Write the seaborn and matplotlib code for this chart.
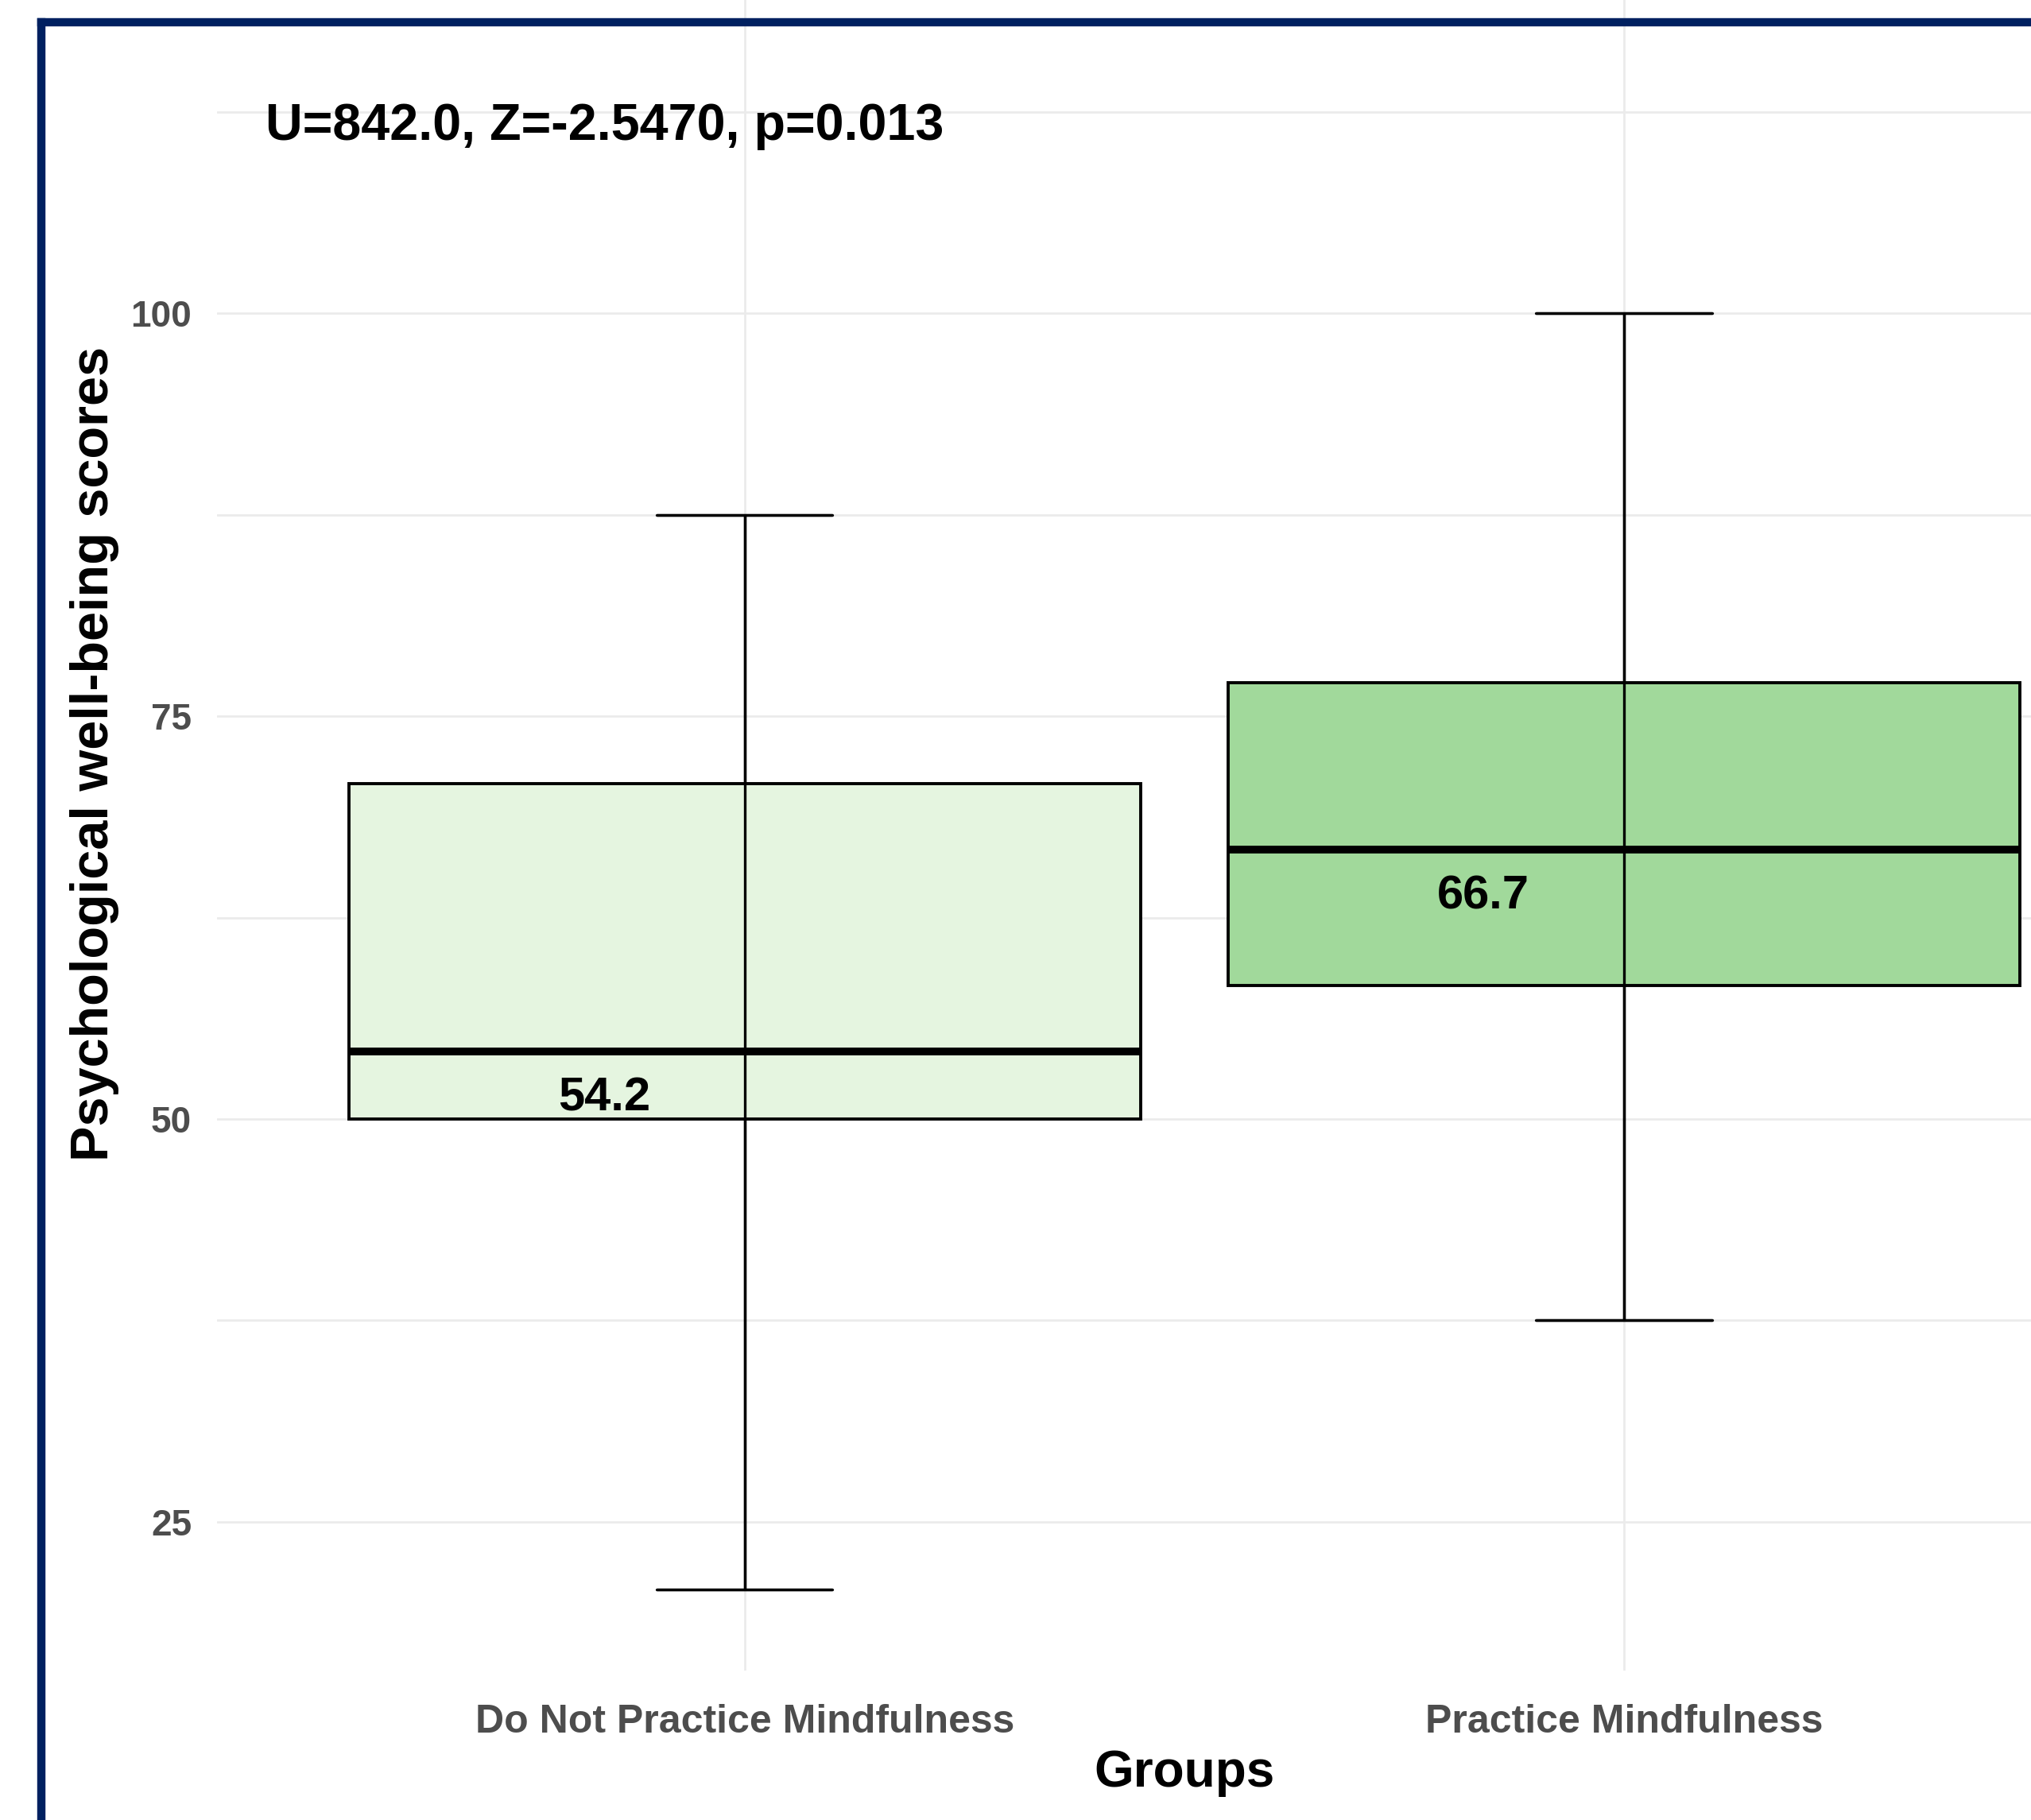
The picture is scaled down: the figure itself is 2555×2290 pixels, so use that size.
import numpy as np
import pandas as pd
import matplotlib
matplotlib.use("Agg")
import matplotlib.pyplot as plt
from matplotlib.lines import Line2D
from matplotlib.ticker import FixedLocator, MultipleLocator
import seaborn as sns

# five-number summaries (min, q1, median, q3, max)
groups = ["Do Not Practice Mindfulness", "Practice Mindfulness"]
no_practice = [20.8, 50.0, 54.2, 70.8, 87.5]
practice = [37.5, 58.3, 66.7, 77.1, 100.0]
fill_colors = ["#E5F5E0", "#A1D99B"]
y_ticks = [25, 50, 75, 100]
stat_text = "U=842.0, Z=-2.5470, p=0.013"

df = pd.DataFrame({
    "group": [groups[0]] * len(no_practice) + [groups[1]] * len(practice),
    "score": no_practice + practice,
})

sns.set_theme(style="whitegrid")
plt.rcParams["font.family"] = ["Liberation Sans", "DejaVu Sans"]

fig = plt.figure(figsize=(25.55, 22.90), dpi=100)
ax = fig.add_axes([0.10685, 0.0821, 0.9525, 1.0077])

sns.boxplot(
    data=df, x="group", y="score", hue="group", order=groups,
    palette=fill_colors, saturation=1, legend=False, width=0.9, whis=np.inf,
    linecolor="black", linewidth=2.8, ax=ax,
    medianprops={"linewidth": 7, "color": "black"},
    whiskerprops={"linewidth": 2.4},
    capprops={"linewidth": 2.4},
    capwidths=0.2,
)

# whisker line runs through the whole box like the errorbar geom
mins = [no_practice[0], practice[0]]
maxs = [no_practice[4], practice[4]]
medians = [no_practice[2], practice[2]]
pos = np.arange(len(groups))
ax.vlines(pos, mins, maxs, color="black", linewidth=2.4, zorder=6)
ax.hlines(mins, pos - 0.1, pos + 0.1, color="black", linewidth=2.4, zorder=6)
ax.hlines(maxs, pos - 0.1, pos + 0.1, color="black", linewidth=2.4, zorder=6)

for p, m in zip(pos, medians):
    ax.text(p - 0.16, m - 2.9, f"{m:.1f}", ha="center", va="center",
            fontsize=43, fontweight="bold", color="black", zorder=7)

ax.text(-0.545, 111.6, stat_text, ha="left", va="center",
        fontsize=46.5, fontweight="bold", color="black")

ax.set_xlim(-0.6, 1.6)
ax.set_ylim(15.76, 129.6)
ax.yaxis.set_major_locator(FixedLocator(y_ticks))
ax.yaxis.set_minor_locator(MultipleLocator(12.5))
ax.grid(which="major", axis="both", color="#EBEBEB", linewidth=2.0)
ax.grid(which="minor", axis="y", color="#EBEBEB", linewidth=2.0)
ax.set_axisbelow(True)
for s in ax.spines.values():
    s.set_visible(False)

ax.tick_params(axis="both", which="both", length=0, labelcolor="#4D4D4D")
ax.tick_params(axis="y", pad=23)
ax.tick_params(axis="x", pad=30)
for lab in ax.get_xticklabels():
    lab.set_fontsize(36)
    lab.set_fontweight("bold")
for lab in ax.get_yticklabels():
    lab.set_fontsize(33)
    lab.set_fontweight("bold")

ax.set_xlabel("Groups", fontsize=46, fontweight="bold", color="black")
ax.set_ylabel("Psychological well-being scores", fontsize=48, fontweight="bold", color="black")
ax.xaxis.set_label_coords(0.5, -0.0429)
ax.yaxis.set_label_coords(-0.0506, 0.5)

# navy frame (left and top edges visible in the crop)
frame_kw = dict(color="#002060", linewidth=7.5, solid_capstyle="projecting",
                transform=fig.transFigure)
fig.add_artist(Line2D([0.02016, 0.02016], [-0.01, 0.98777], **frame_kw))
fig.add_artist(Line2D([0.02016, 1.01], [0.98777, 0.98777], **frame_kw))

fig.savefig("out.png", dpi=100, facecolor="white")
